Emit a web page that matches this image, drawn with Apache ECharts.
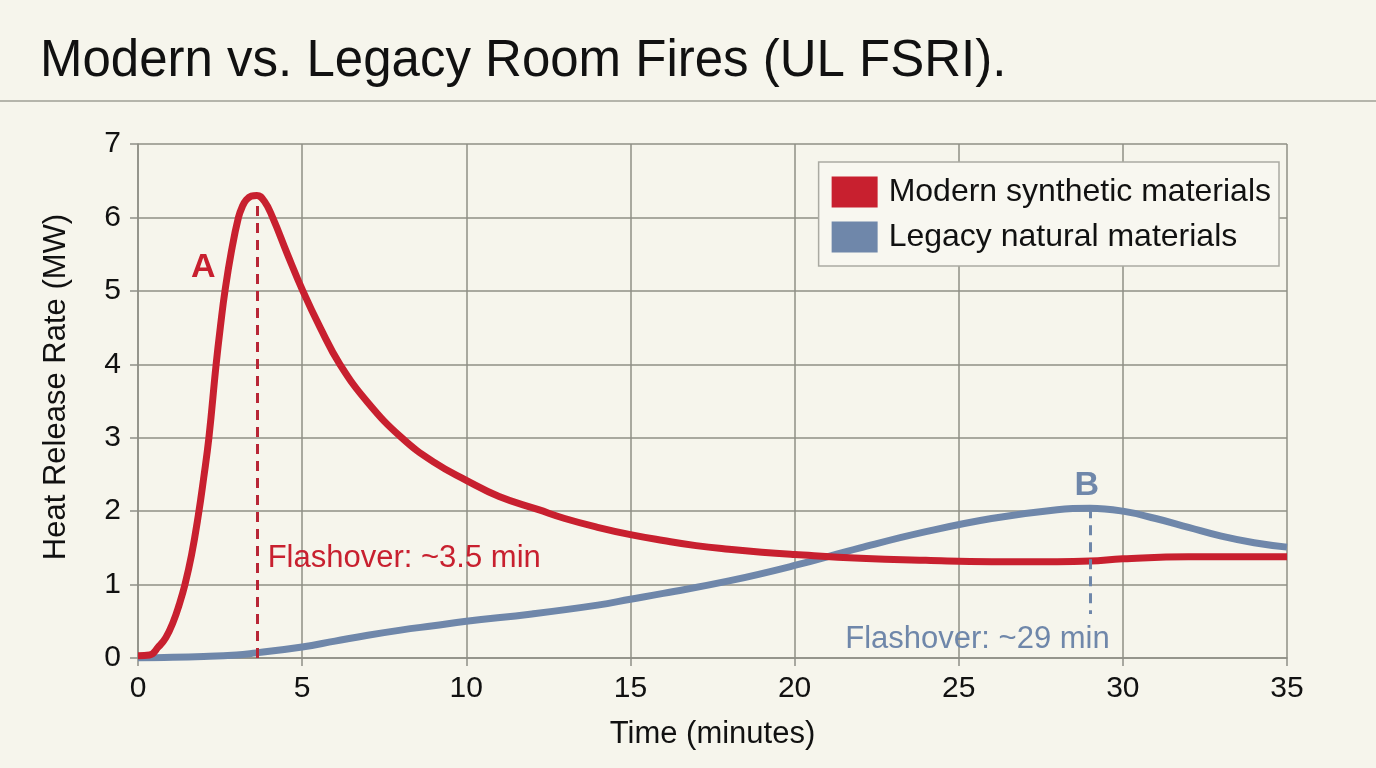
<!DOCTYPE html>
<html>
<head>
<meta charset="utf-8">
<title>Modern vs. Legacy Room Fires</title>
<script src="https://cdn.jsdelivr.net/npm/echarts@6/dist/echarts.min.js"></script>
<style>
  html, body { margin: 0; padding: 0; background: #f6f5ec; }
  #chart { width: 1376px; height: 768px; }
</style>
</head>
<body>
<div id="chart"></div>
<script>
// time (minutes), heat release rate (MW)
var modernData = [
  [0, 0.03], [0.35, 0.04], [0.62, 0.15], [0.85, 0.28], [1.08, 0.5], [1.25, 0.72],
  [1.43, 1.0], [1.63, 1.4], [1.84, 1.95], [2.0, 2.45], [2.16, 3.0], [2.38, 4.0],
  [2.52, 4.55], [2.65, 5.0], [2.85, 5.55], [3.06, 6.0], [3.18, 6.15], [3.3, 6.24],
  [3.45, 6.29], [3.62, 6.3], [3.85, 6.22], [4.1, 6.0], [4.55, 5.5], [5.02, 5.0],
  [5.55, 4.5], [6.15, 4.0], [7.0, 3.48], [8.03, 3.0], [9, 2.67], [10, 2.42],
  [11, 2.2], [12.2, 2.02], [13, 1.9], [14, 1.78], [15, 1.68], [16, 1.6],
  [17, 1.53], [18, 1.48], [19, 1.44], [20, 1.41], [22, 1.36], [24, 1.33],
  [26, 1.31], [28, 1.31], [29, 1.32], [30, 1.35], [32, 1.38], [35, 1.38]
];
var legacyData = [
  [0, 0.0], [2, 0.02], [3, 0.04], [3.6, 0.07], [5, 0.15], [6, 0.23],
  [7, 0.31], [8, 0.38], [9, 0.44], [10, 0.5], [12, 0.6], [14, 0.72],
  [15, 0.8], [16, 0.88], [18, 1.05], [20, 1.26], [22, 1.5], [24, 1.72],
  [26, 1.9], [28, 2.02], [29, 2.04], [30, 2.0], [31, 1.9], [32, 1.78],
  [33, 1.66], [34, 1.57], [35, 1.51]
];
var seriesNames = ['Modern synthetic materials', 'Legacy natural materials'];
var modernFlashover = [3.62, 6.25];
var legacyFlashover = [29, 2.04, 0.6];
var annotationsModern = [
  { text: 'A', at: [1.99, 5.31], align: 'center' },
  { text: 'Flashover: ~3.5 min', at: [3.95, 1.35], align: 'left' }
];
var annotationsLegacy = [
  { text: 'B', at: [28.9, 2.35], align: 'center' },
  { text: 'Flashover: ~29 min', at: [29.6, 0.25], align: 'right' }
];

var RED = '#c8202f';
var BLUE = '#6f87aa';
var FONT = 'Liberation Sans, Arial, Helvetica, sans-serif';
var GRID = '#8f8f86';

var dom = document.getElementById('chart');
var myChart = echarts.init(dom, null, { renderer: 'canvas' });

function annotationPoints(list, color) {
  return list.map(function (a) {
    var bold = a.text.length === 1;
    return {
      coord: a.at,
      symbolSize: 0,
      label: {
        show: true,
        formatter: a.text,
        color: color,
        fontFamily: FONT,
        fontSize: bold ? 34 : 31,
        fontWeight: bold ? 'bold' : 'normal',
        position: 'inside',
        align: a.align,
        verticalAlign: 'middle'
      }
    };
  });
}

var option = {
  backgroundColor: '#f6f5ec',
  animation: false,
  title: {
    text: 'Modern vs. Legacy Room Fires (UL FSRI).',
    left: 35,
    top: 31,
    textStyle: { fontFamily: FONT, fontSize: 51, fontWeight: 'normal', color: '#111' }
  },
  graphic: [
    {
      type: 'line',
      shape: { x1: 0, y1: 101, x2: 1376, y2: 101 },
      style: { stroke: '#b5b5ab', lineWidth: 2 }
    }
  ],
  legend: {
    right: 97,
    top: 162,
    orient: 'vertical',
    itemWidth: 46,
    itemHeight: 31,
    itemGap: 13,
    padding: [14, 8, 13, 13],
    backgroundColor: '#f8f7f0',
    borderColor: '#aaaaa2',
    borderWidth: 1.5,
    icon: 'rect',
    textStyle: { fontFamily: FONT, fontSize: 32, lineHeight: 31, color: '#111', padding: [0, 0, 0, 6] },
    data: seriesNames
  },
  grid: { left: 138, right: 89, top: 144, bottom: 110 },
  xAxis: {
    type: 'value',
    min: 0,
    max: 35,
    interval: 5,
    name: 'Time (minutes)',
    nameLocation: 'middle',
    nameGap: 61,
    nameTextStyle: { fontFamily: FONT, fontSize: 31, color: '#111' },
    axisLine: { show: true, lineStyle: { color: GRID, width: 1.5 } },
    axisTick: { show: true, length: 8, lineStyle: { color: GRID, width: 1.5 } },
    axisLabel: { fontFamily: FONT, fontSize: 30, color: '#111', margin: 16 },
    splitLine: { show: true, lineStyle: { color: GRID, width: 1.5 } }
  },
  yAxis: {
    type: 'value',
    min: 0,
    max: 7,
    interval: 1,
    name: 'Heat Release Rate (MW)',
    nameLocation: 'middle',
    nameGap: 66,
    nameTextStyle: { fontFamily: FONT, fontSize: 31, color: '#111', padding: [0, 0, 0, 28] },
    axisLine: { show: true, lineStyle: { color: GRID, width: 1.5 } },
    axisTick: { show: true, length: 8, lineStyle: { color: GRID, width: 1.5 } },
    axisLabel: { fontFamily: FONT, fontSize: 30, color: '#111', margin: 17 },
    splitLine: { show: true, lineStyle: { color: GRID, width: 1.5 } }
  },
  series: [
    {
      name: seriesNames[0],
      type: 'line',
      data: modernData,
      smooth: 0.45,
      showSymbol: false,
      z: 3,
      itemStyle: { color: RED },
      lineStyle: { color: RED, width: 7 },
      markLine: {
        silent: true,
        symbol: 'none',
        label: { show: false },
        lineStyle: { color: '#b82636', width: 3, type: [10, 7] },
        data: [[
          { coord: [modernFlashover[0], 0] },
          { coord: [modernFlashover[0], modernFlashover[1]] }
        ]]
      },
      markPoint: { silent: true, data: annotationPoints(annotationsModern, RED) }
    },
    {
      name: seriesNames[1],
      type: 'line',
      data: legacyData,
      smooth: 0.45,
      showSymbol: false,
      z: 2,
      itemStyle: { color: BLUE },
      lineStyle: { color: BLUE, width: 7 },
      markLine: {
        silent: true,
        symbol: 'none',
        label: { show: false },
        lineStyle: { color: BLUE, width: 3, type: [10, 7] },
        data: [[
          { coord: [legacyFlashover[0], legacyFlashover[1]] },
          { coord: [legacyFlashover[0], legacyFlashover[2]] }
        ]]
      },
      markPoint: { silent: true, data: annotationPoints(annotationsLegacy, BLUE) }
    }
  ]
};

myChart.setOption(option);
window.addEventListener('resize', myChart.resize);
</script>
</body>
</html>
